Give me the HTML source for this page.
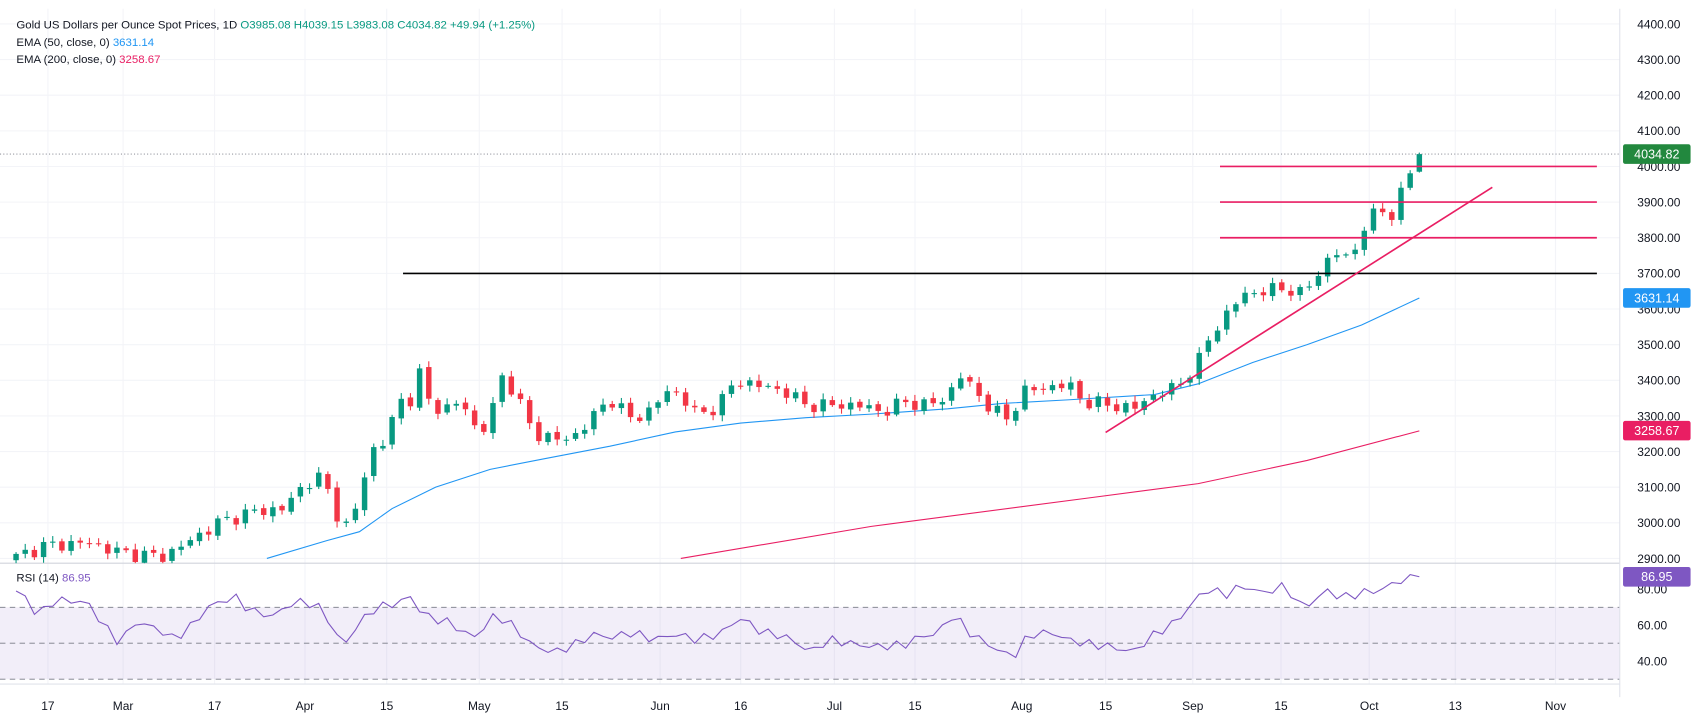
<!DOCTYPE html><html><head><meta charset="utf-8"><style>html,body{margin:0;padding:0;background:#fff}svg{display:block}text{font-family:"Liberation Sans",sans-serif}</style></head><body>
<svg id="s" width="1708" height="727" viewBox="0 0 1568 667.4" preserveAspectRatio="none" xmlns="http://www.w3.org/2000/svg"></svg>
<script>
var s=document.getElementById('s'),o='';
function Y(p){return 22+(4400-p)*0.3271;}
function R(v){return 541+(80-v)*1.65;}
var xl=[[44,'17'],[113,'Mar'],[197,'17'],[280,'Apr'],[355,'15'],[440,'May'],[516,'15'],[606,'Jun'],[680,'16'],[766,'Jul'],[840,'15'],[938,'Aug'],[1015,'15'],[1095,'Sep'],[1176,'15'],[1257,'Oct'],[1336,'13'],[1428,'Nov']];
xl.forEach(function(a){o+='<line x1="'+a[0]+'" y1="8" x2="'+a[0]+'" y2="628" stroke="#f3f4f8"/>';o+='<text x="'+a[0]+'" y="652" font-size="11" fill="#131722" text-anchor="middle">'+a[1]+'</text>';});
for(var p=2900;p<=4400;p+=100){var y=Y(p);o+='<line x1="0" y1="'+y+'" x2="1487" y2="'+y+'" stroke="#f3f4f8"/>';o+='<text x="1503" y="'+(y+4)+'" font-size="11" fill="#131722">'+p+'.00</text>';}
o+='<rect x="0" y="'+R(70)+'" width="1487" height="'+(R(30)-R(70))+'" fill="#7e57c2" fill-opacity="0.1"/>';
[70,50,30].forEach(function(v){o+='<line x1="0" y1="'+R(v)+'" x2="1487" y2="'+R(v)+'" stroke="#787b86" stroke-dasharray="5,4" stroke-width="0.8"/>';});
[80,60,40].forEach(function(v){o+='<text x="1503" y="'+(R(v)+4)+'" font-size="11" fill="#131722">'+v+'.00</text>';});
o+='<line x1="0" y1="517" x2="1487" y2="517" stroke="#d1d4dc"/><line x1="1487" y1="8" x2="1487" y2="640" stroke="#e0e3eb"/><line x1="0" y1="628" x2="1487" y2="628" stroke="#e0e3eb"/>';
o+='<polyline fill="none" stroke="#e91e63" stroke-width="1" points="625,'+Y(2900)+' 800,'+Y(2990)+' 1000,'+Y(3070)+' 1100,'+Y(3110)+' 1200,'+Y(3175)+' 1303,'+Y(3258)+'"/>';
o+='<polyline fill="none" stroke="#2196f3" stroke-width="1" points="245,'+Y(2900)+' 300,'+Y(2950)+' 330,'+Y(2975)+' 360,'+Y(3040)+' 400,'+Y(3100)+' 450,'+Y(3150)+' 500,'+Y(3180)+' 560,'+Y(3215)+' 620,'+Y(3255)+' 680,'+Y(3280)+' 740,'+Y(3295)+' 800,'+Y(3305)+' 870,'+Y(3320)+' 920,'+Y(3335)+' 980,'+Y(3345)+' 1060,'+Y(3360)+' 1100,'+Y(3390)+' 1150,'+Y(3450)+' 1200,'+Y(3500)+' 1250,'+Y(3555)+' 1303,'+Y(3631)+'"/>';
var W=[[15,2905],[40,2935],[80,2945],[113,2915],[150,2905],[180,2960],[200,3000],[230,3030],[260,3040],[280,3110],[295,3130],[305,3060],[315,2980],[325,3020],[340,3200],[355,3230],[365,3350],[375,3330],[385,3420],[395,3330],[410,3320],[425,3340],[440,3240],[450,3300],[462,3420],[475,3350],[490,3250],[505,3240],[516,3230],[530,3250],[545,3300],[560,3350],[580,3290],[600,3320],[610,3370],[625,3360],[640,3300],[660,3330],[675,3400],[690,3390],[720,3370],[740,3330],[760,3330],[790,3330],[810,3310],[830,3340],[850,3330],[870,3350],[880,3420],[895,3370],[910,3320],[925,3290],[940,3370],[960,3380],[980,3390],[995,3340],[1020,3330],[1040,3320],[1060,3360],[1080,3380],[1100,3450],[1110,3520],[1125,3580],[1140,3640],[1160,3650],[1180,3660],[1195,3640],[1210,3700],[1225,3760],[1240,3740],[1255,3850],[1270,3880],[1280,3860],[1290,3960],[1303,4034]];
function interp(P,x){for(var i=0;i<P.length-1;i++){if(x<=P[i+1][0]){var t=(x-P[i][0])/(P[i+1][0]-P[i][0]);return P[i][1]+t*(P[i+1][1]-P[i][1]);}}return P[P.length-1][1];}
var n=154,prev=2895;
for(var i=0;i<n;i++){var x=1303-(n-1-i)*8.42;if(x<8)continue;var c=interp(W,x)+(i==n-1?0:Math.sin(i*2.3)*14+Math.cos(i*1.7)*8);if(i==n-1){prev=3985;c=4034.8;}
var op=prev+Math.sin(i*3.1)*4;var hi=Math.max(op,c)+5+Math.abs(Math.sin(i*1.3))*12,lo=Math.min(op,c)-5-Math.abs(Math.cos(i*0.9))*12;
if(i==n-1){hi=4039;lo=3983;}
var col=c>=op?'#089981':'#f23645';var y1=Y(Math.max(op,c)),y2=Y(Math.min(op,c));if(y2-y1<1)y2=y1+1;
o+='<line x1="'+x+'" y1="'+Y(hi)+'" x2="'+x+'" y2="'+Math.min(Y(lo),517)+'" stroke="'+col+'"/>';
if(y1<517)o+='<rect x="'+(x-2.5)+'" y="'+y1+'" width="5" height="'+(Math.min(y2,517)-y1)+'" fill="'+col+'"/>';prev=c;}
o+='<line x1="0" y1="'+Y(4034.82)+'" x2="1487" y2="'+Y(4034.82)+'" stroke="#787b86" stroke-dasharray="1,2" stroke-width="0.8"/>';
[4000,3900,3800].forEach(function(p){o+='<line x1="1120" y1="'+Y(p)+'" x2="1466" y2="'+Y(p)+'" stroke="#e91e63" stroke-width="1.5"/>';});
o+='<line x1="370" y1="'+Y(3700)+'" x2="1466" y2="'+Y(3700)+'" stroke="#000" stroke-width="1.5"/>';
o+='<line x1="1015" y1="397" x2="1370" y2="172" stroke="#e91e63" stroke-width="1.5"/>';
var RW=[[10,80],[20,78],[35,65],[50,74],[80,73],[95,60],[110,50],[125,62],[145,58],[160,52],[180,62],[190,70],[215,76],[230,68],[250,65],[270,73],[290,72],[305,60],[315,47],[325,58],[345,70],[365,72],[375,77],[390,65],[410,62],[435,53],[455,66],[470,60],[490,48],[510,45],[530,50],[545,55],[560,53],[580,56],[600,52],[620,55],[640,52],[660,55],[680,64],[700,56],[720,54],[745,45],[760,52],[780,50],[800,48],[830,49],[845,54],[860,55],[875,66],[890,56],[905,50],[920,45],[930,42],[945,55],[965,56],[980,52],[995,50],[1020,48],[1040,45],[1060,55],[1080,62],[1100,76],[1110,80],[1125,77],[1140,82],[1160,78],[1180,82],[1195,70],[1205,73],[1220,80],[1230,75],[1250,78],[1270,80],[1280,84],[1303,87]];
var pts='';for(var i=0;i<n;i++){var x=1303-(n-1-i)*8.42;if(x<8)continue;var v=interp(RW,x)+(i==n-1?0:Math.sin(i*2.7)*2.5);pts+=x+','+R(v)+' ';}
o+='<polyline fill="none" stroke="#7e57c2" stroke-width="1" points="'+pts+'"/>';
function tag(y,t,c){o+='<rect x="1490" y="'+(y-9)+'" width="62" height="18" rx="2" fill="'+c+'"/><text x="1521" y="'+(y+4)+'" font-size="11.5" fill="#fff" text-anchor="middle">'+t+'</text>';}
tag(Y(4034.82),'4034.82','#22883e');tag(Y(3631.14),'3631.14','#2196f3');tag(Y(3258.67),'3258.67','#e91e63');tag(R(86.95),'86.95','#7e57c2');
o+='<text x="15" y="26" font-size="10.5" fill="#131722">Gold US Dollars per Ounce Spot Prices, 1D <tspan fill="#089981">O3985.08  H4039.15  L3983.08  C4034.82  +49.94 (+1.25%)</tspan></text>';
o+='<text x="15" y="42" font-size="10.5" fill="#131722">EMA (50, close, 0) <tspan fill="#2196f3">3631.14</tspan></text>';
o+='<text x="15" y="58" font-size="10.5" fill="#131722">EMA (200, close, 0) <tspan fill="#e91e63">3258.67</tspan></text>';
o+='<text x="15" y="534" font-size="10.5" fill="#131722">RSI (14) <tspan fill="#7e57c2">86.95</tspan></text>';
s.innerHTML=o;
</script></body></html>
